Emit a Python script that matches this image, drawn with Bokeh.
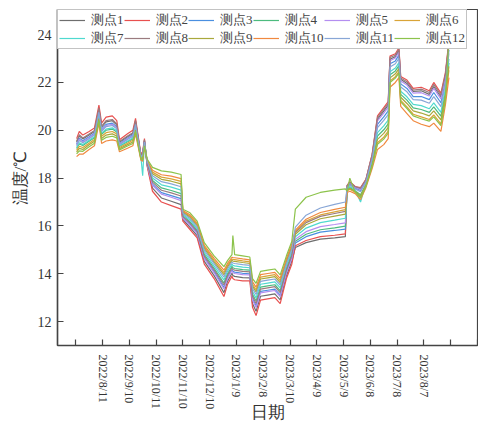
import pandas as pd
from bokeh.plotting import figure
from bokeh.models import Range1d, FixedTicker, Legend, LegendItem
from bokeh.embed import file_html
from bokeh.resources import INLINE

# ---- data ----
dates = ["2022-07-13", "2022-07-16", "2022-07-20", "2022-07-27", "2022-08-02", "2022-08-07",
         "2022-08-10", "2022-08-15", "2022-08-22", "2022-08-27", "2022-08-30", "2022-09-08",
         "2022-09-14", "2022-09-17", "2022-09-23", "2022-09-25", "2022-09-27", "2022-09-30",
         "2022-10-06", "2022-10-16", "2022-10-27", "2022-11-07", "2022-11-09", "2022-11-17",
         "2022-11-25", "2022-12-03", "2022-12-14", "2022-12-25", "2022-12-29", "2023-01-03",
         "2023-01-04", "2023-01-06", "2023-01-15", "2023-01-23", "2023-01-26", "2023-01-30",
         "2023-02-04", "2023-02-12", "2023-02-20", "2023-02-26", "2023-03-05", "2023-03-11",
         "2023-03-15", "2023-03-27", "2023-04-12", "2023-04-28", "2023-05-10", "2023-05-12",
         "2023-05-15", "2023-05-21", "2023-05-27", "2023-06-02", "2023-06-09", "2023-06-15",
         "2023-06-22", "2023-06-27", "2023-06-29", "2023-07-05", "2023-07-09", "2023-07-11",
         "2023-07-18", "2023-07-25", "2023-08-03", "2023-08-12", "2023-08-17", "2023-08-25",
         "2023-08-30", "2023-09-03"]

t1 = [19.50, 19.76, 19.64, 19.80, 19.95, 20.90, 20.13, 20.35, 20.40, 20.23,
      19.50, 19.73, 19.87, 20.37, 18.95, 19.02, 19.58, 18.54, 17.58, 17.17,
      17.03, 16.89, 16.27, 15.94, 15.59, 14.52, 13.92, 13.21, 13.68, 14.02,
      13.93, 13.89, 13.84, 13.83, 12.76, 12.43, 13.06, 13.11, 13.16, 12.91,
      13.92, 14.52, 15.10, 15.30, 15.45, 15.50, 15.55, 17.67, 17.81, 17.62,
      17.55, 17.92, 18.94, 20.46, 20.80, 21.05, 22.97, 23.08, 23.33, 22.13,
      21.96, 21.62, 21.65, 21.50, 21.83, 21.39, 22.27, 23.60]
t2 = [19.65, 19.95, 19.80, 19.95, 20.10, 21.05, 20.30, 20.55, 20.60, 20.40,
      19.60, 19.85, 20.00, 20.50, 19.00, 19.10, 19.65, 18.50, 17.45, 17.00,
      16.85, 16.70, 16.20, 15.85, 15.50, 14.40, 13.80, 13.05, 13.55, 13.90,
      13.80, 13.75, 13.70, 13.70, 12.60, 12.25, 12.90, 12.95, 13.00, 12.75,
      13.80, 14.40, 15.17, 15.39, 15.55, 15.61, 15.67, 17.70, 17.85, 17.65,
      17.60, 17.95, 19.00, 20.60, 20.95, 21.20, 23.10, 23.20, 23.45, 22.25,
      22.10, 21.75, 21.80, 21.65, 22.00, 21.55, 22.40, 23.75]
t3 = [19.43, 19.67, 19.56, 19.73, 19.88, 20.83, 20.05, 20.25, 20.30, 20.15,
      19.45, 19.67, 19.81, 20.31, 18.93, 18.98, 19.55, 18.59, 17.75, 17.39,
      17.27, 17.14, 16.35, 16.06, 15.71, 14.67, 14.09, 13.43, 13.85, 14.17,
      14.10, 14.07, 14.02, 14.00, 12.96, 12.66, 13.26, 13.31, 13.36, 13.11,
      14.09, 14.69, 15.29, 15.55, 15.74, 15.81, 15.87, 17.63, 17.75, 17.58,
      17.48, 17.86, 18.85, 20.25, 20.56, 20.81, 22.78, 22.90, 23.14, 21.94,
      21.75, 21.41, 21.41, 21.28, 21.58, 21.15, 22.06, 23.36]
t4 = [19.24, 19.43, 19.36, 19.54, 19.69, 20.64, 19.83, 20.00, 20.05, 19.93,
      19.33, 19.52, 19.64, 20.14, 18.86, 18.88, 19.46, 18.64, 17.90, 17.59,
      17.48, 17.35, 16.43, 16.17, 15.82, 14.81, 14.23, 13.61, 14.00, 14.31,
      14.25, 14.22, 14.17, 14.15, 13.14, 12.86, 13.44, 13.49, 13.54, 13.29,
      14.23, 14.83, 15.36, 15.65, 15.84, 15.92, 15.99, 17.52, 17.61, 17.47,
      17.30, 17.74, 18.64, 19.76, 20.02, 20.27, 22.32, 22.48, 22.70, 21.50,
      21.26, 20.94, 20.87, 20.75, 20.98, 20.59, 21.59, 22.82]
t5 = [19.39, 19.62, 19.52, 19.69, 19.84, 20.79, 20.00, 20.20, 20.25, 20.10,
      19.43, 19.64, 19.77, 20.27, 18.91, 18.96, 19.53, 18.58, 17.70, 17.33,
      17.20, 17.06, 16.33, 16.03, 15.68, 14.63, 14.04, 13.36, 13.80, 14.13,
      14.05, 14.01, 13.96, 13.95, 12.90, 12.59, 13.20, 13.25, 13.30, 13.05,
      14.04, 14.64, 15.44, 15.76, 15.97, 16.06, 16.13, 17.66, 17.79, 17.61,
      17.53, 17.90, 18.91, 20.39, 20.72, 20.97, 22.91, 23.02, 23.26, 22.06,
      21.89, 21.55, 21.57, 21.43, 21.75, 21.31, 22.20, 23.52]
t6 = [19.16, 19.33, 19.28, 19.46, 19.61, 20.56, 19.75, 19.90, 19.95, 19.85,
      19.28, 19.46, 19.58, 20.08, 18.84, 18.84, 19.42, 18.74, 18.25, 18.04,
      17.97, 17.86, 16.60, 16.41, 16.06, 15.12, 14.56, 14.05, 14.35, 14.62,
      14.60, 14.59, 14.54, 14.50, 13.56, 13.33, 13.86, 13.91, 13.96, 13.71,
      14.56, 15.16, 15.76, 16.20, 16.46, 16.59, 16.68, 17.46, 17.53, 17.41,
      17.20, 17.67, 18.52, 19.48, 19.71, 19.96, 22.06, 22.24, 22.45, 21.25,
      20.98, 20.67, 20.56, 20.45, 20.64, 20.27, 21.32, 22.51]
t7 = [19.28, 19.48, 19.40, 19.58, 19.73, 20.68, 19.88, 20.05, 20.10, 19.98,
      19.35, 19.55, 19.68, 20.18, 18.88, 18.10, 19.48, 18.67, 18.00, 17.72,
      17.62, 17.50, 16.48, 16.24, 15.89, 14.90, 14.32, 13.74, 14.10, 14.40,
      14.35, 14.33, 14.28, 14.25, 13.26, 12.99, 13.56, 13.61, 13.66, 13.41,
      14.32, 14.92, 15.55, 15.91, 16.14, 16.24, 16.32, 17.55, 17.65, 17.50,
      17.00, 17.78, 18.70, 19.90, 20.18, 20.43, 22.45, 22.60, 22.83, 21.63,
      21.40, 21.08, 21.03, 20.90, 21.15, 20.75, 21.73, 22.98]
t8 = [19.54, 19.81, 19.68, 19.84, 19.99, 20.94, 20.17, 20.40, 20.45, 20.27,
      19.53, 19.76, 19.90, 20.40, 18.96, 19.04, 19.60, 18.61, 17.83, 17.49,
      17.38, 17.25, 16.39, 16.12, 15.77, 14.74, 14.16, 13.53, 13.93, 14.24,
      14.18, 14.15, 14.10, 14.08, 13.06, 12.76, 13.36, 13.41, 13.46, 13.21,
      14.16, 14.76, 15.72, 16.14, 16.40, 16.52, 16.61, 17.69, 17.83, 17.64,
      17.58, 17.93, 18.97, 20.53, 20.87, 21.12, 23.04, 23.14, 23.39, 22.19,
      22.03, 21.68, 21.72, 21.58, 21.92, 21.47, 22.33, 23.67]
t9 = [19.09, 19.24, 19.20, 19.39, 19.54, 20.49, 19.66, 19.80, 19.85, 19.76,
      19.23, 19.40, 19.51, 20.01, 18.81, 18.80, 19.39, 18.72, 18.18, 17.95,
      17.87, 17.76, 16.57, 16.36, 16.01, 15.06, 14.49, 13.96, 14.28, 14.56,
      14.53, 14.52, 14.47, 14.43, 13.48, 13.24, 13.78, 13.83, 13.88, 13.63,
      14.49, 15.09, 15.65, 16.05, 16.30, 16.41, 16.49, 17.49, 17.57, 17.44,
      17.25, 17.71, 18.58, 19.62, 19.87, 20.12, 22.19, 22.36, 22.58, 21.38,
      21.12, 20.81, 20.72, 20.60, 20.81, 20.43, 21.46, 22.67]
t10 = [18.90, 19.00, 19.00, 19.20, 19.35, 20.30, 19.45, 19.55, 19.60, 19.55,
       19.10, 19.25, 19.35, 19.85, 18.75, 18.70, 19.30, 18.76, 18.33, 18.14,
       18.08, 17.98, 16.64, 16.47, 16.12, 15.19, 14.64, 14.15, 14.43, 14.69,
       14.68, 14.67, 14.62, 14.58, 13.66, 13.44, 13.96, 14.01, 14.06, 13.81,
       14.64, 15.24, 15.82, 16.28, 16.56, 16.69, 16.78, 17.40, 17.45, 17.35,
       17.10, 17.60, 18.40, 19.20, 19.40, 19.65, 21.80, 22.00, 22.20, 21.00,
       20.70, 20.40, 20.25, 20.15, 20.30, 19.95, 21.05, 22.20]
t11 = [19.35, 19.57, 19.48, 19.65, 19.80, 20.75, 19.96, 20.15, 20.20, 20.06,
       19.40, 19.61, 19.74, 20.24, 18.90, 18.94, 19.51, 18.70, 18.10, 17.85,
       17.76, 17.64, 16.53, 16.31, 15.96, 14.99, 14.42, 13.86, 14.20, 14.49,
       14.45, 14.43, 14.38, 14.35, 13.38, 13.13, 13.68, 13.73, 13.78, 13.53,
       14.42, 15.02, 15.95, 16.45, 16.75, 16.90, 17.00, 17.60, 17.71, 17.55,
       17.43, 17.83, 18.79, 20.11, 20.41, 20.66, 22.65, 22.78, 23.01, 21.81,
       21.61, 21.28, 21.26, 21.13, 21.41, 20.99, 21.93, 23.21]
t12 = [19.01, 19.14, 19.12, 19.31, 19.46, 20.41, 19.58, 19.70, 19.75, 19.68,
       19.18, 19.34, 19.45, 19.95, 18.79, 18.76, 19.35, 18.80, 18.45, 18.30,
       18.25, 18.15, 16.70, 16.55, 16.20, 15.30, 14.75, 14.30, 14.55, 14.80,
       15.60, 14.80, 14.75, 14.70, 13.80, 13.60, 14.10, 14.15, 14.20, 13.95,
       14.75, 15.35, 16.70, 17.20, 17.40, 17.50, 17.55, 17.45, 18.00, 17.40,
       17.18, 17.65, 18.49, 19.41, 19.63, 19.88, 22.00, 22.18, 22.39, 21.19,
       20.91, 20.60, 20.48, 20.38, 20.56, 20.19, 21.25, 23.80]

series_names = ["测点1", "测点2", "测点3", "测点4", "测点5", "测点6",
                "测点7", "测点8", "测点9", "测点10", "测点11", "测点12"]
series_values = [t1, t2, t3, t4, t5, t6, t7, t8, t9, t10, t11, t12]
colors = ["#6e6e6e", "#e8504f", "#4a8fe0", "#4cbb7e", "#b48ef0", "#d9a437",
          "#4fd9cf", "#9a7b7f", "#a9a83c", "#f0893f", "#88a6d6", "#8cc34b"]

tick_labels = ["2022/8/11", "2022/9/10", "2022/10/11", "2022/11/10", "2022/12/10",
               "2023/1/9", "2023/2/8", "2023/3/10", "2023/4/9", "2023/5/9",
               "2023/6/8", "2023/7/8", "2023/8/7"]
y_ticks = [12, 14, 16, 18, 20, 22, 24]
tick_step_days = 30
origin = pd.Timestamp("2022-08-11")

# ---- build ----
x = [(pd.Timestamp(d) - origin).days for d in dates]
FONT = "Liberation Serif"
AX = "#444444"

p = figure(width=478, height=425, output_backend="svg", toolbar_location=None,
           x_range=Range1d(-50.4, 420), y_range=Range1d(11.0, 25.05),
           min_border_left=57, min_border_right=1, min_border_top=9, min_border_bottom=70,
           background_fill_color="white", border_fill_color="white")

items = []
for name, vals, col in zip(series_names, series_values, colors):
    r = p.line(x, vals, line_color=col, line_width=1.2)
    items.append(LegendItem(label=name, renderers=[r]))

ticks = [k * tick_step_days for k in range(-1, 15)]
overrides = {t: "" for t in ticks}
for i, lab in enumerate(tick_labels):
    overrides[i * tick_step_days] = lab
p.xaxis.ticker = FixedTicker(ticks=ticks)
p.xaxis.major_label_overrides = overrides
p.xaxis.major_label_orientation = "vertical"
p.yaxis.ticker = FixedTicker(ticks=y_ticks)

for ax in (p.xaxis[0], p.yaxis[0]):
    ax.axis_line_color = AX
    ax.axis_line_width = 1.5
    ax.major_tick_line_color = AX
    ax.major_tick_line_width = 1.2
    ax.major_tick_in = 6
    ax.major_tick_out = 0
    ax.minor_tick_in = 0
    ax.minor_tick_out = 0
    ax.major_label_text_font = FONT
    ax.major_label_text_color = "#333333"
    ax.axis_label_text_font = FONT
    ax.axis_label_text_font_style = "normal"
    ax.axis_label_text_color = "#333333"
    ax.axis_label_text_font_size = "17px"

p.xaxis.major_label_text_font_size = "12px"
p.xaxis.major_label_standoff = 9
p.xaxis.axis_label = "日期"
p.xaxis.axis_label_standoff = -9
p.yaxis.major_label_text_font_size = "14px"
p.yaxis.major_label_standoff = 6
p.yaxis.axis_label = "温度/℃"
p.yaxis.axis_label_standoff = 5

p.xgrid.visible = False
p.ygrid.visible = False
p.outline_line_color = AX
p.outline_line_width = 1.2

legend = Legend(items=items, location="top_left", orientation="horizontal", ncols=6,
                label_text_font=FONT, label_text_font_size="13px", label_text_color="#444444",
                label_text_line_height=0.9,
                glyph_width=26, glyph_height=14, label_height=14, label_standoff=6,
                spacing=0, padding=1, margin=0,
                border_line_color="#888888", border_line_width=1,
                background_fill_color="white", background_fill_alpha=1.0)
p.add_layout(legend)

open("out.html", "w").write(file_html(p, INLINE))
